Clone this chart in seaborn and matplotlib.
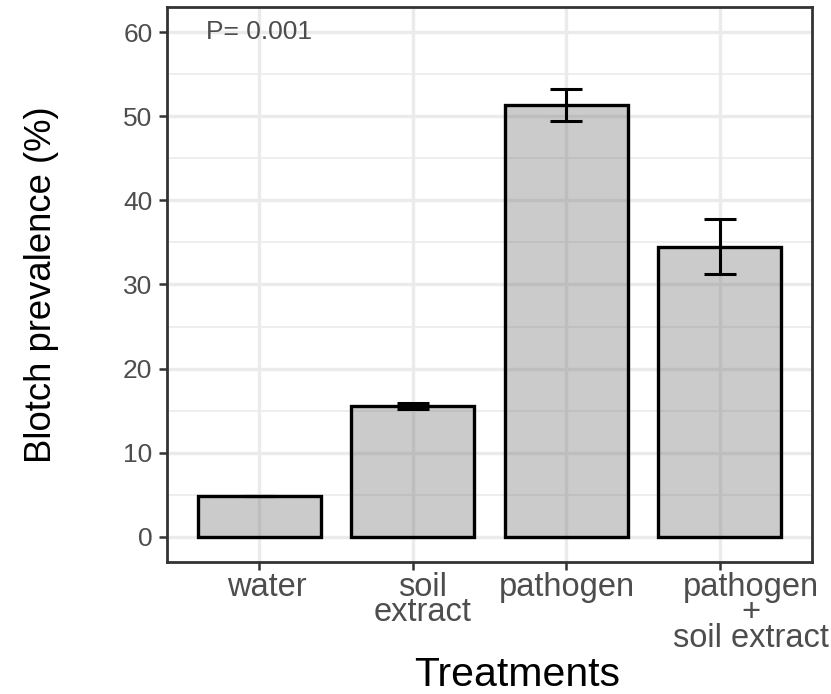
import matplotlib
matplotlib.use("Agg")
import matplotlib.pyplot as plt
from matplotlib.ticker import MultipleLocator
from matplotlib.transforms import ScaledTranslation
import seaborn as sns
import pandas as pd

# ---- data ----
treatments = ["water", "soil\nextract", "pathogen", "pathogen\n+\nsoil extract"]
prevalence = [4.8, 15.6, 51.4, 34.5]
std_err = [0.0, 0.35, 1.9, 3.25]
y_ticks = [0, 10, 20, 30, 40, 50, 60]
p_label = "P= 0.001"
x_title = "Treatments"
y_title = "Blotch prevalence (%)"

sns.set_theme(style="white")
plt.rcParams['font.family'] = ['Liberation Sans', 'DejaVu Sans']

W, H = 831, 694
fig = plt.figure(figsize=(W / 100, H / 100), dpi=100)
ax = fig.add_axes([167 / W, 1 - 562 / H, 645 / W, 555 / H])

df = pd.DataFrame({"Treatments": treatments, "prev": prevalence})
sns.barplot(data=df, x="Treatments", y="prev", ax=ax, color="#6b6b6b",
            saturation=1, width=0.8, errorbar=None, edgecolor="black",
            linewidth=2.4, zorder=3)
for p in ax.patches:
    p.set_facecolor((0.42, 0.42, 0.42, 0.35))
    p.set_edgecolor("black")

ax.errorbar(x=list(range(len(treatments))), y=prevalence, yerr=std_err,
            fmt="none", ecolor="black", elinewidth=2.2, capsize=11.2,
            capthick=2.2, zorder=4)

ax.set_xlim(-0.6, len(treatments) - 0.4)
ax.set_ylim(-3, 63)
ax.set_yticks(y_ticks)
ax.yaxis.set_minor_locator(MultipleLocator(5))

ax.set_axisbelow(True)
ax.grid(which="major", axis="both", color="#EBEBEB", lw=2.4)
ax.grid(which="minor", axis="y", color="#EBEBEB", lw=1.2)

for s in ax.spines.values():
    s.set_visible(True)
    s.set_color("#333333")
    s.set_linewidth(2.0)

ax.tick_params(which="major", length=5.5, width=1.8, color="#333333",
               labelcolor="#4D4D4D", left=True, bottom=True)
ax.tick_params(axis="y", labelsize=19, pad=5)
ax.tick_params(axis="x", labelsize=23.5, pad=1.8)
ax.tick_params(which="minor", length=0)

# small horizontal nudges of the tick labels (pixels), as in the reference
label_shift_px = [8, 10, 1, 31]
for lbl, dx in zip(ax.get_xticklabels(), label_shift_px):
    lbl.set_linespacing(0.76)
    lbl.set_transform(lbl.get_transform() +
                      ScaledTranslation(dx / 100, 0, fig.dpi_scale_trans))

ax.text(0, 60, p_label, ha="center", va="center", fontsize=19,
        color="#4D4D4D", zorder=5)

ax.set_xlabel(x_title, fontsize=29.5, color="black")
ax.set_ylabel(y_title, fontsize=26.3, color="black")
ax.xaxis.label.set_verticalalignment("baseline")
ax.xaxis.set_label_coords((517 - 167) / 645, -(686 - 562) / 555)
ax.yaxis.set_label_coords(-0.168, 0.5)

fig.savefig("out.png", dpi=100)
